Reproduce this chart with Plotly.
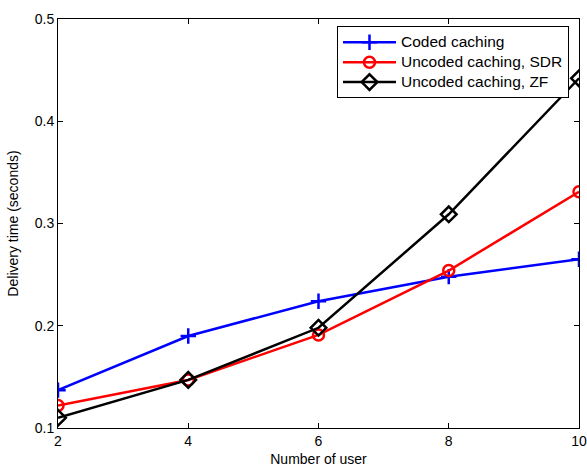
import plotly.graph_objects as go

# Number of users
users = [2, 4, 6, 8, 10]

# Delivery time (seconds) for each scheme
coded_caching = [0.137, 0.190, 0.224, 0.248, 0.265]
uncoded_sdr = [0.122, 0.147, 0.191, 0.254, 0.331]
uncoded_zf = [0.110, 0.147, 0.198, 0.309, 0.442]

series_names = ["Coded caching", "Uncoded caching, SDR", "Uncoded caching, ZF"]

y_ticks = [0.1, 0.2, 0.3, 0.4, 0.5]
x_ticks = [2, 4, 6, 8, 10]

FONT = "Liberation Sans, Arial, sans-serif"


def legend_label(text):
    # larger glyphs than the legend's base size keep the rows compact
    return f'<span style="font-size:15.5px">{text}</span>'


fig = go.Figure()
fig.add_trace(go.Scatter(
    x=users, y=coded_caching, name=legend_label(series_names[0]), mode="lines+markers",
    line=dict(color="#0000ff", width=2.5),
    marker=dict(symbol="cross-thin-open", size=11, line=dict(color="#0000ff", width=2.5)),
))
fig.add_trace(go.Scatter(
    x=users, y=uncoded_sdr, name=legend_label(series_names[1]), mode="lines+markers",
    line=dict(color="#ff0000", width=2.5),
    marker=dict(symbol="circle-open", size=11, line=dict(color="#ff0000", width=2.5)),
))
fig.add_trace(go.Scatter(
    x=users, y=uncoded_zf, name=legend_label(series_names[2]), mode="lines+markers",
    line=dict(color="#000000", width=2.5),
    marker=dict(symbol="diamond-open", size=12, line=dict(color="#000000", width=2.5)),
))

axis_common = dict(
    showgrid=False, zeroline=False, showline=True, linecolor="black", linewidth=1,
    mirror="ticks", ticks="inside", ticklen=5, tickwidth=1, tickcolor="black",
    tickfont=dict(family=FONT, size=14, color="black"), automargin=False,
)

fig.update_xaxes(
    range=[2, 10], tickvals=x_ticks, ticktext=[str(t) for t in x_ticks],
    title=dict(text="Number of user", font=dict(family=FONT, size=14, color="black"), standoff=6),
    **axis_common,
)
fig.update_yaxes(
    range=[0.1, 0.5], tickvals=y_ticks, ticktext=[f"{t:.1f}" for t in y_ticks],
    title=dict(text="Delivery time (seconds)", font=dict(family=FONT, size=14, color="black"), standoff=12),
    **axis_common,
)

fig.update_layout(
    width=587, height=471,
    margin=dict(l=58, r=8, t=18.5, b=42.5),
    paper_bgcolor="white", plot_bgcolor="white",
    font=dict(family=FONT, size=14, color="black"),
    legend=dict(
        x=0.5355, y=0.982, xanchor="left", yanchor="top",
        bgcolor="white", bordercolor="black", borderwidth=1,
        font=dict(family=FONT, size=13, color="black"),
        tracegroupgap=0, itemwidth=53,
    ),
)

fig.write_html("out.html")
